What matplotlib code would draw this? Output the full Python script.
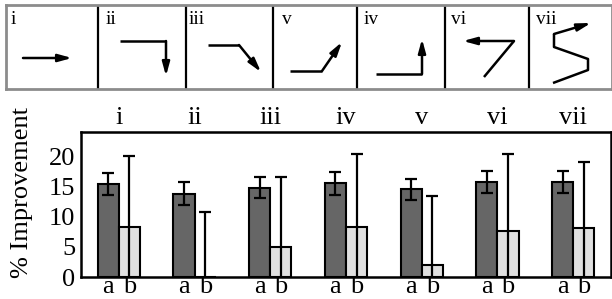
import numpy as np
import matplotlib.pyplot as plt

plt.rcParams['font.family'] = ['Liberation Serif', 'DejaVu Serif']

#### bar data
groups = ["i", "ii", "iii", "iv", "v", "vi", "vii"]
a_vals = [15.4, 13.8, 14.8, 15.5, 14.5, 15.7, 15.7]
a_err = [1.8, 1.9, 1.8, 1.9, 1.8, 1.8, 1.8]
b_vals = [8.3, 0.0, 5.0, 8.3, 2.0, 7.6, 8.1]
b_err = [11.7, 10.7, 11.6, 12.0, 11.4, 12.7, 11.0]

#### top strip: panel labels, divider x (px), arrow paths (px)
panel_labels = ["i", "ii", "iii", "v", "iv", "vi", "vii"]
panel_label_x = [11, 106, 189, 282, 364, 451, 536]
dividers = [98, 186, 273, 357, 445, 529]
paths = [
    [(23, 58), (72, 58)],
    [(120, 41), (166, 41), (166, 76)],
    [(208, 45), (239, 45), (261, 72)],
    [(290, 71), (322, 71), (342, 42)],
    [(376, 74), (422, 74), (422, 39)],
    [(484, 77), (514, 41), (463, 41)],
    [(553, 83), (588, 70), (588, 59), (554, 47), (554, 34), (591, 23)],
]

W, H = 612, 299
fig = plt.figure(figsize=(W / 100, H / 100), dpi=100)

# diagram strip
top = fig.add_axes([6 / W, (H - 89) / H, (W - 6) / W, 84 / H])
top.set_xlim(6, W)
top.set_ylim(89, 5)
top.set_xticks([])
top.set_yticks([])
for s in top.spines.values():
    s.set_color("#8c8c8c")
    s.set_linewidth(2)
for x in dividers:
    top.axvline(x, color="black", lw=1.6)
for lab, x in zip(panel_labels, panel_label_x):
    top.text(x, 11, lab, fontsize=14, ha="left", va="top")
for p in paths:
    xs = [q[0] for q in p]
    ys = [q[1] for q in p]
    top.plot(xs[:-1], ys[:-1], color="black", lw=1.8, solid_capstyle="butt")
    top.annotate("", xy=p[-1], xytext=p[-2],
                 arrowprops=dict(arrowstyle="-|>,head_length=0.8,head_width=0.22",
                                 color="black", lw=1.8, shrinkA=0, shrinkB=0))

# bar chart
ax = fig.add_axes([81 / W, (H - 277) / H, (611 - 81) / W, 145 / H])
x = np.arange(len(groups))
bw = 0.28
ax.bar(x - bw / 2, a_vals, bw, color="#666666", edgecolor="black", lw=1.5, zorder=2)
ax.bar(x + bw / 2, b_vals, bw, color="#e0e0e0", edgecolor="black", lw=1.5, zorder=2)
ax.errorbar(x - bw / 2, a_vals, yerr=a_err, fmt="none", ecolor="black",
            elinewidth=1.6, capsize=4, capthick=1.6, zorder=3)
ax.errorbar(x + bw / 2, b_vals, yerr=b_err, fmt="none", ecolor="black",
            elinewidth=1.6, capsize=4, capthick=1.6, zorder=3)
ax.set_xlim(-0.5, 6.5)
ax.set_ylim(0, 24)
ax.set_yticks([0, 5, 10, 15, 20])
ax.tick_params(axis="y", length=0, labelsize=19, pad=4)
ab_pos = np.ravel(np.column_stack([x - bw / 2, x + bw / 2]))
ax.set_xticks(ab_pos)
ax.set_xticklabels(["a", "b"] * len(groups))
ax.tick_params(axis="x", length=0, labelsize=19, pad=-1)
for s in ax.spines.values():
    s.set_linewidth(1.8)
ax.set_ylabel("% Improvement", fontsize=19)
ax.yaxis.set_label_coords(-0.09, 0.58)

sec = ax.secondary_xaxis("top")
sec.set_xticks(x)
sec.set_xticklabels(groups)
sec.tick_params(length=0, labelsize=19, pad=2)

fig.savefig("out.png", dpi=100)
